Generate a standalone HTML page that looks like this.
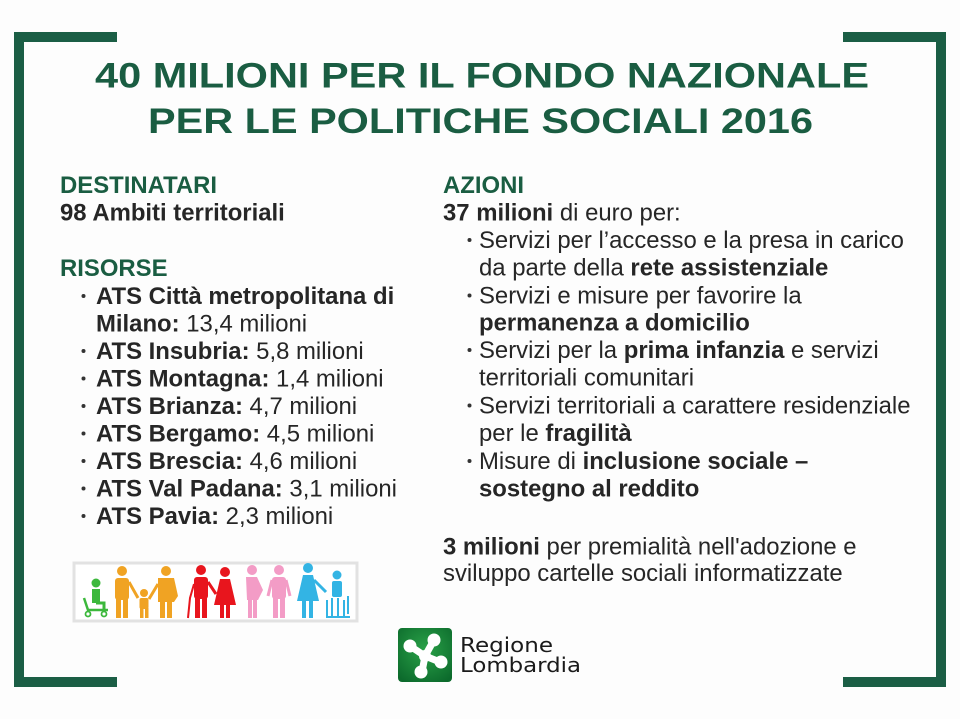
<!DOCTYPE html>
<html>
<head>
<meta charset="utf-8">
<style>
html,body{margin:0;padding:0;background:#fdfdfd;}
svg{display:block;}
</style>
</head>
<body>
<svg width="960" height="719" viewBox="0 0 960 719" xmlns="http://www.w3.org/2000/svg">
  <rect x="0" y="0" width="960" height="719" fill="#fdfdfd"/>

  <!-- frame corners -->
  <g fill="#1b5e45">
    <rect x="14" y="32" width="10" height="655"/>
    <rect x="14" y="32" width="103" height="10"/>
    <rect x="14" y="677" width="103" height="10"/>
    <rect x="936" y="32" width="10" height="655"/>
    <rect x="843" y="32" width="103" height="10"/>
    <rect x="843" y="677" width="103" height="10"/>
  </g>

  <!-- title -->
  <g font-family="'Liberation Sans', Arial, sans-serif" font-weight="bold" font-size="35" fill="#1a5d42" text-anchor="middle">
    <text x="482" y="87.5" textLength="774" lengthAdjust="spacingAndGlyphs">40 MILIONI PER IL FONDO NAZIONALE</text>
    <text x="480.5" y="133" textLength="665" lengthAdjust="spacingAndGlyphs">PER LE POLITICHE SOCIALI 2016</text>
  </g>

  <!-- left column -->
  <g font-family="'Liberation Sans', Arial, sans-serif" font-size="23.9" fill="#262626">
    <text x="60" y="193" font-weight="bold" fill="#1a5d42">DESTINATARI</text>
    <text x="60" y="220.6" font-weight="bold">98 Ambiti territoriali</text>
    <text x="60" y="276" font-weight="bold" fill="#1a5d42">RISORSE</text>

    <text x="96" y="304" font-weight="bold">ATS Città metropolitana di</text>
    <text x="96" y="331.5"><tspan font-weight="bold">Milano:</tspan> 13,4 milioni</text>
    <text x="96" y="359"><tspan font-weight="bold">ATS Insubria:</tspan> 5,8 milioni</text>
    <text x="96" y="386.5"><tspan font-weight="bold">ATS Montagna:</tspan> 1,4 milioni</text>
    <text x="96" y="414"><tspan font-weight="bold">ATS Brianza:</tspan> 4,7 milioni</text>
    <text x="96" y="441.5"><tspan font-weight="bold">ATS Bergamo:</tspan> 4,5 milioni</text>
    <text x="96" y="469"><tspan font-weight="bold">ATS Brescia:</tspan> 4,6 milioni</text>
    <text x="96" y="496.5"><tspan font-weight="bold">ATS Val Padana:</tspan> 3,1 milioni</text>
    <text x="96" y="524"><tspan font-weight="bold">ATS Pavia:</tspan> 2,3 milioni</text>
  </g>
  <g fill="#333">
    <circle cx="83.5" cy="296" r="2"/>
    <circle cx="83.5" cy="351" r="2"/>
    <circle cx="83.5" cy="378.5" r="2"/>
    <circle cx="83.5" cy="406" r="2"/>
    <circle cx="83.5" cy="433.5" r="2"/>
    <circle cx="83.5" cy="461" r="2"/>
    <circle cx="83.5" cy="488.5" r="2"/>
    <circle cx="83.5" cy="516" r="2"/>
  </g>

  <!-- right column -->
  <g font-family="'Liberation Sans', Arial, sans-serif" font-size="23.9" fill="#262626">
    <text x="443" y="193" font-weight="bold" fill="#1a5d42">AZIONI</text>
    <text x="443" y="220.6"><tspan font-weight="bold">37 milioni</tspan> di euro per:</text>

    <text x="479" y="248">Servizi per l’accesso e la presa in carico</text>
    <text x="479" y="275.5">da parte della <tspan font-weight="bold">rete assistenziale</tspan></text>
    <text x="479" y="303.3">Servizi e misure per favorire la</text>
    <text x="479" y="330.5" font-weight="bold">permanenza a domicilio</text>
    <text x="479" y="358">Servizi per la <tspan font-weight="bold">prima infanzia</tspan> e servizi</text>
    <text x="479" y="385.5">territoriali comunitari</text>
    <text x="479" y="413.5">Servizi territoriali a carattere residenziale</text>
    <text x="479" y="441">per le <tspan font-weight="bold">fragilità</tspan></text>
    <text x="479" y="469">Misure di <tspan font-weight="bold">inclusione sociale –</tspan></text>
    <text x="479" y="496.5" font-weight="bold">sostegno al reddito</text>

    <text x="443" y="554.5"><tspan font-weight="bold">3 milioni</tspan> per premialità nell'adozione e</text>
    <text x="443" y="581">sviluppo cartelle sociali informatizzate</text>
  </g>
  <g fill="#333">
    <circle cx="469.5" cy="240" r="2"/>
    <circle cx="469.5" cy="295.5" r="2"/>
    <circle cx="469.5" cy="350" r="2"/>
    <circle cx="469.5" cy="405.5" r="2"/>
    <circle cx="469.5" cy="461" r="2"/>
  </g>

  <!-- people image -->
  <rect x="74" y="563" width="283" height="58" fill="#ffffff" stroke="#e2e2e2" stroke-width="3"/>
  <!-- green scooter -->
  <g fill="#3cb83c" stroke="#3cb83c">
    <circle cx="96" cy="583" r="4.5" stroke="none"/>
    <rect x="92" y="589" width="8" height="14" stroke="none"/>
    <path d="M96 603 L104 603 L104 611" fill="none" stroke-width="3"/>
    <path d="M84 598 L88 610 L108 610" fill="none" stroke-width="2.5"/>
    <circle cx="88" cy="614" r="2.5" fill="none" stroke-width="1.8"/>
    <circle cx="104" cy="614" r="2.5" fill="none" stroke-width="1.8"/>
  </g>
  <!-- orange family -->
  <g fill="#f0a323" stroke="#f0a323">
    <circle cx="122" cy="571" r="5" stroke="none"/>
    <rect x="115" y="578" width="14" height="22" rx="3" stroke="none"/>
    <rect x="116" y="599" width="5" height="19" stroke="none"/>
    <rect x="123" y="599" width="5" height="19" stroke="none"/>
    <path d="M129 582 L138 598" stroke-width="3"/>
    <circle cx="144" cy="593" r="4" stroke="none"/>
    <rect x="139.5" y="598" width="9" height="11" rx="2" stroke="none"/>
    <rect x="140" y="608" width="3.5" height="10" stroke="none"/>
    <rect x="145" y="608" width="3.5" height="10" stroke="none"/>
    <path d="M149 599 L158 584" stroke-width="3"/>
    <circle cx="166" cy="571" r="5" stroke="none"/>
    <path d="M158 578 L174 578 L178 596 L174 602 L158 602 Z" stroke="none"/>
    <rect x="160" y="601" width="5" height="17" stroke="none"/>
    <rect x="167" y="601" width="5" height="17" stroke="none"/>
  </g>
  <!-- red couple -->
  <g fill="#e8151d" stroke="#e8151d">
    <circle cx="201" cy="570" r="5" stroke="none"/>
    <rect x="194" y="577" width="14" height="22" rx="3" stroke="none"/>
    <rect x="195" y="598" width="5" height="20" stroke="none"/>
    <rect x="202" y="598" width="5" height="20" stroke="none"/>
    <path d="M194 584 L190 598 L188 618" fill="none" stroke-width="2"/>
    <path d="M208 582 L216 594" stroke-width="3"/>
    <circle cx="225" cy="572" r="5" stroke="none"/>
    <path d="M220 579 L230 579 L236 605 L214 605 Z" stroke="none"/>
    <rect x="220" y="604" width="4" height="14" stroke="none"/>
    <rect x="226" y="604" width="4" height="14" stroke="none"/>
  </g>
  <!-- pink couple -->
  <g fill="#f39cc6" stroke="#f39cc6">
    <circle cx="252" cy="570" r="5" stroke="none"/>
    <path d="M246 577 L257 577 L263 590 L258 600 L247 600 Z" stroke="none"/>
    <rect x="248" y="599" width="4" height="19" stroke="none"/>
    <rect x="253" y="599" width="4" height="19" stroke="none"/>
    <circle cx="279" cy="570" r="5" stroke="none"/>
    <rect x="272" y="577" width="14" height="22" rx="3" stroke="none"/>
    <rect x="273" y="598" width="5" height="20" stroke="none"/>
    <rect x="280" y="598" width="5" height="20" stroke="none"/>
    <path d="M272 580 L268 596 M286 580 L290 596" stroke-width="3"/>
  </g>
  <!-- blue pair -->
  <g fill="#33b4e4" stroke="#33b4e4">
    <circle cx="308" cy="568" r="5" stroke="none"/>
    <path d="M303 575 L313 575 L319 601 L297 601 Z" stroke="none"/>
    <rect x="302" y="600" width="4" height="18" stroke="none"/>
    <rect x="309" y="600" width="4" height="18" stroke="none"/>
    <path d="M314 580 L326 592" stroke-width="3"/>
    <circle cx="337" cy="575" r="4.5" stroke="none"/>
    <rect x="332" y="581" width="10" height="16" rx="2" stroke="none"/>
    <path d="M327 600 L327 618 M332 598 L332 616 M338 598 L338 616 M344 600 L344 618 M348 596 L348 614" fill="none" stroke-width="2"/>
    <path d="M326 617 L350 617" stroke-width="2"/>
  </g>

  <!-- Regione Lombardia logo -->
  <defs>
    <radialGradient id="lg" cx="50%" cy="40%" r="70%">
      <stop offset="0" stop-color="#2aa248"/>
      <stop offset="1" stop-color="#0c6a2c"/>
    </radialGradient>
  </defs>
  <rect x="398" y="628" width="54" height="54" rx="4" fill="url(#lg)"/>
  <g fill="#ffffff" stroke="#ffffff">
    <path d="M410 646 L425 656 L434 640 M425 656 L440 662 M425 656 L422 672" fill="none" stroke-width="7" stroke-linecap="round"/>
    <circle cx="410" cy="646" r="6.5" stroke="none"/>
    <circle cx="434" cy="640" r="6.5" stroke="none"/>
    <circle cx="441" cy="662" r="6.5" stroke="none"/>
    <circle cx="421" cy="672" r="6.5" stroke="none"/>
    <circle cx="425" cy="656" r="6" stroke="none"/>
  </g>
  <g font-family="'DejaVu Sans', 'Liberation Sans', sans-serif" font-size="20" fill="#1a1a1a">
    <text x="460" y="652" textLength="93" lengthAdjust="spacingAndGlyphs">Regione</text>
    <text x="460" y="672" textLength="121" lengthAdjust="spacingAndGlyphs">Lombardia</text>
  </g>
</svg>
</body>
</html>
